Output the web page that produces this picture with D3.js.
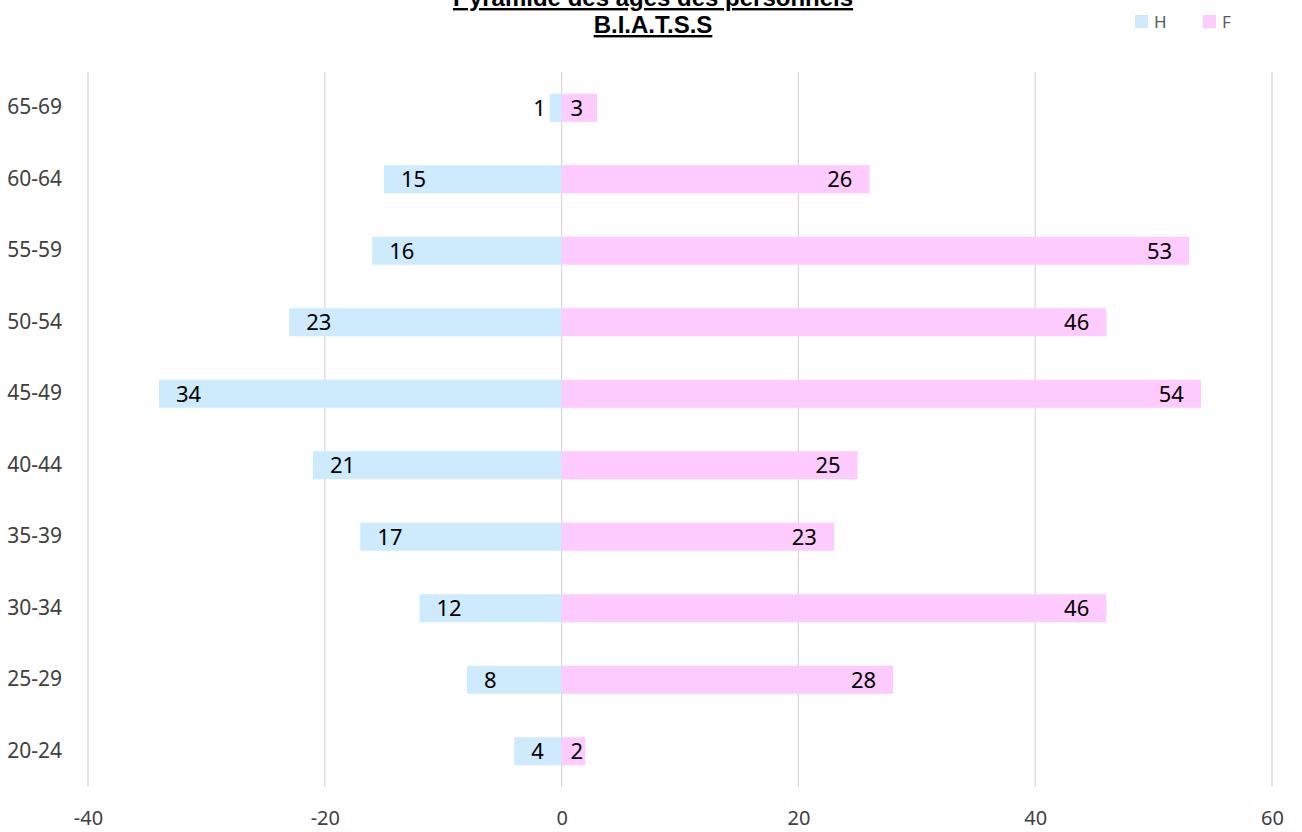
<!DOCTYPE html>
<html>
<head>
<meta charset="utf-8">
<script src="https://cdn.jsdelivr.net/npm/d3@7"></script>
<style>
  html, body { margin: 0; padding: 0; background: #ffffff; }
  svg { display: block; }
</style>
</head>
<body>
<svg id="chart" width="1302" height="832"></svg>
<script>
// Age groups, oldest at the top
const ageGroups = ["65-69", "60-64", "55-59", "50-54", "45-49", "40-44", "35-39", "30-34", "25-29", "20-24"];
// Headcount per age group
const hommes = [1, 15, 16, 23, 34, 21, 17, 12, 8, 4];
const femmes = [3, 26, 53, 46, 54, 25, 23, 46, 28, 2];
const xTicks = [-40, -20, 0, 20, 40, 60];
const seriesNames = ["H", "F"];
const titleLines = ["Pyramide des âges des personnels", "B.I.A.T.S.S"];

const colH = "#cdebfd";
const colF = "#fdcbfd";

const svg = d3.select("#chart");
const plot = { left: 88, right: 1272, top: 72, bottom: 787 };

const x = d3.scaleLinear().domain([xTicks[0], xTicks[xTicks.length - 1]]).range([plot.left, plot.right]);
const y = d3.scaleBand().domain(ageGroups).range([plot.top, plot.bottom]).paddingInner(0.608).paddingOuter(0.304);

// Vertical gridlines
svg.append("g")
  .selectAll("line")
  .data(xTicks)
  .join("line")
  .attr("x1", d => x(d)).attr("x2", d => x(d))
  .attr("y1", plot.top).attr("y2", plot.bottom)
  .attr("stroke", "#d9d9d9").attr("stroke-width", 1.3);

const uiFont = "'Noto Sans', 'Open Sans', sans-serif";

// Bottom axis labels
const xAxis = d3.axisBottom(x).tickValues(xTicks).tickSize(0).tickPadding(0).tickFormat(d => String(d));
const gx = svg.append("g").attr("transform", `translate(0, 810)`).call(xAxis);
gx.select(".domain").remove();
gx.selectAll("text")
  .attr("dy", "0.75em")
  .attr("font-family", uiFont)
  .attr("font-size", 20)
  .attr("fill", "#404040");

// Category labels on the left
const yAxis = d3.axisLeft(y).tickSize(0).tickPadding(0);
const gy = svg.append("g").attr("transform", `translate(62, 0)`).call(yAxis);
gy.select(".domain").remove();
gy.selectAll("text")
  .attr("font-family", uiFont)
  .attr("font-size", 21)
  .attr("fill", "#404040");

const rows = ageGroups.map((g, i) => ({ g, h: hommes[i], f: femmes[i] }));

// Men: drawn to the left of zero
svg.append("g").selectAll("rect")
  .data(rows).join("rect")
  .attr("x", d => x(-d.h))
  .attr("width", d => x(0) - x(-d.h))
  .attr("y", d => y(d.g))
  .attr("height", y.bandwidth())
  .attr("fill", colH);

// Women: drawn to the right of zero
svg.append("g").selectAll("rect")
  .data(rows).join("rect")
  .attr("x", x(0))
  .attr("width", d => x(d.f) - x(0))
  .attr("y", d => y(d.g))
  .attr("height", y.bandwidth())
  .attr("fill", colF);

// Value labels, placed inside the outer end of each bar
const labelSize = 22;
const pad = 17;
const lbl = svg.append("g")
  .attr("font-family", uiFont)
  .attr("font-size", labelSize)
  .attr("fill", "#000000");

rows.forEach(d => {
  const cy = y(d.g) + y.bandwidth() / 2;
  // men
  const th = lbl.append("text").attr("y", cy).attr("dy", "0.36em").text(d.h);
  const wh = th.node().getComputedTextLength();
  const startH = x(-d.h) + pad;
  if (startH + wh > x(0) - 4) {
    th.attr("x", x(-d.h) - 4).attr("text-anchor", "end");
  } else {
    th.attr("x", startH).attr("text-anchor", "start");
  }
  // women
  const tf = lbl.append("text").attr("y", cy).attr("dy", "0.36em").text(d.f);
  const wf = tf.node().getComputedTextLength();
  let endF = x(d.f) - pad;
  if (endF - wf < x(0) + 9) endF = Math.min(x(d.f) - 2, x(0) + 9 + wf);
  tf.attr("x", endF).attr("text-anchor", "end");
});

// Title
const title = svg.append("g")
  .attr("font-family", "'Liberation Sans', Arial, sans-serif")
  .attr("font-weight", "bold")
  .attr("font-size", 24)
  .attr("fill", "#000000")
  .attr("text-anchor", "middle");
title.selectAll("text")
  .data(titleLines)
  .join("text")
  .attr("x", 653)
  .attr("y", (d, i) => 6 + i * 27)
  .attr("text-decoration", "underline")
  .text(d => d);

// Legend
const legend = svg.append("g")
  .attr("font-family", uiFont)
  .attr("font-size", 17)
  .attr("fill", "#595959");
const legendX = [1135, 1203];
seriesNames.forEach((name, i) => {
  legend.append("rect")
    .attr("x", legendX[i]).attr("y", 15)
    .attr("width", 13).attr("height", 13)
    .attr("fill", i === 0 ? colH : colF);
  legend.append("text")
    .attr("x", legendX[i] + 19).attr("y", 28)
    .text(name);
});
</script>
</body>
</html>
